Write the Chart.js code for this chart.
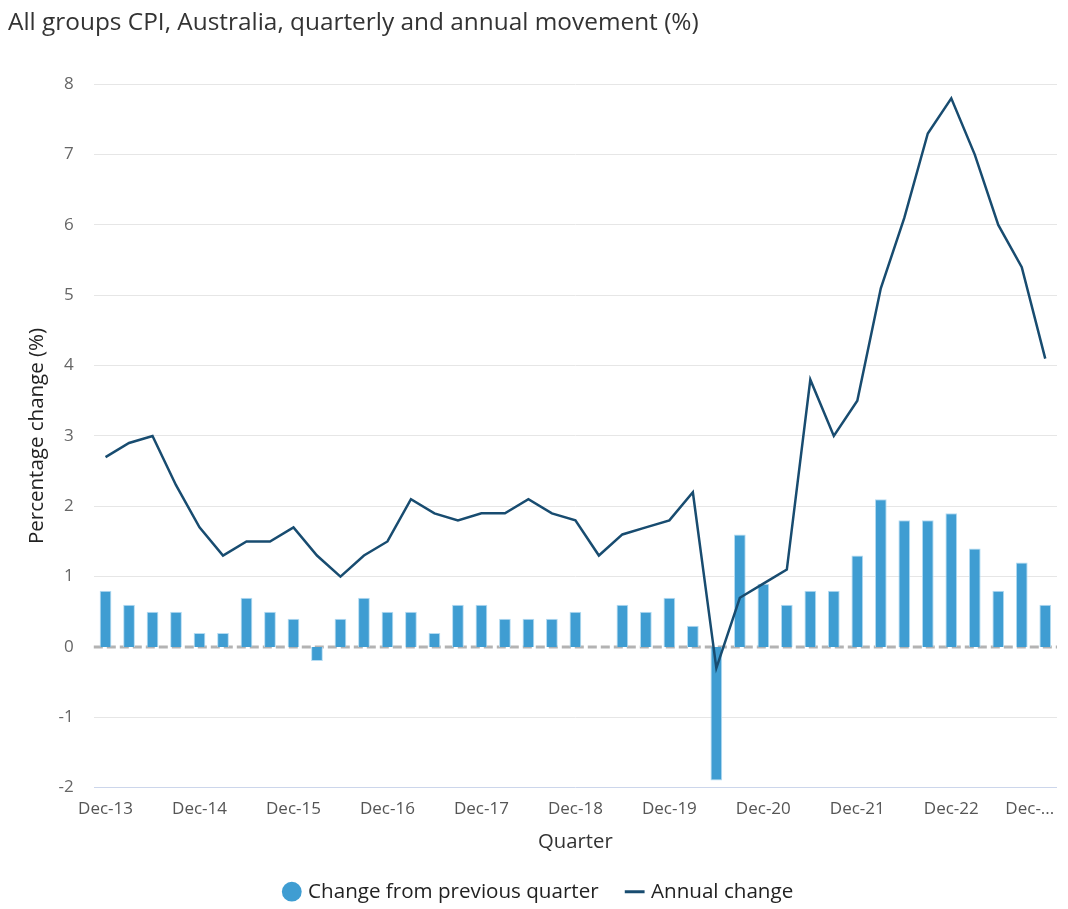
<!DOCTYPE html>
<html>
<head>
<meta charset="utf-8">
<script src="https://cdn.jsdelivr.net/npm/chart.js@4.4.1/dist/chart.umd.min.js"></script>
<style>
html,body{margin:0;padding:0;background:#fff;}
#wrap{width:1068px;height:909px;position:relative;}
</style>
</head>
<body>
<div id="wrap"><canvas id="c"></canvas></div>
<script>
const categories = ["Dec-13","Mar-14","Jun-14","Sep-14","Dec-14","Mar-15","Jun-15","Sep-15","Dec-15","Mar-16","Jun-16","Sep-16","Dec-16","Mar-17","Jun-17","Sep-17","Dec-17","Mar-18","Jun-18","Sep-18","Dec-18","Mar-19","Jun-19","Sep-19","Dec-19","Mar-20","Jun-20","Sep-20","Dec-20","Mar-21","Jun-21","Sep-21","Dec-21","Mar-22","Jun-22","Sep-22","Dec-22","Mar-23","Jun-23","Sep-23","Dec-23"];
const quarterlyChange = [0.8,0.6,0.5,0.5,0.2,0.2,0.7,0.5,0.4,-0.2,0.4,0.7,0.5,0.5,0.2,0.6,0.6,0.4,0.4,0.4,0.5,0.0,0.6,0.5,0.7,0.3,-1.9,1.6,0.9,0.6,0.8,0.8,1.3,2.1,1.8,1.8,1.9,1.4,0.8,1.2,0.6];
const annualChange = [2.7,2.9,3.0,2.3,1.7,1.3,1.5,1.5,1.7,1.3,1.0,1.3,1.5,2.1,1.9,1.8,1.9,1.9,2.1,1.9,1.8,1.3,1.6,1.7,1.8,2.2,-0.3,0.7,0.9,1.1,3.8,3.0,3.5,5.1,6.1,7.3,7.8,7.0,6.0,5.4,4.1];
const yTicks = [-2,-1,0,1,2,3,4,5,6,7,8];

const FONT = "'Open Sans', 'Noto Sans', sans-serif";

const zeroLine = {
  id: 'zeroLine',
  beforeDatasetsDraw(chart) {
    const y = chart.scales.y.getPixelForValue(0);
    const {left, right} = chart.chartArea;
    const ctx = chart.ctx;
    ctx.save();
    ctx.strokeStyle = '#b3b3b3';
    ctx.lineWidth = 3;
    ctx.setLineDash([9, 4]);
    ctx.beginPath();
    ctx.moveTo(left, y);
    ctx.lineTo(right, y);
    ctx.stroke();
    ctx.restore();
  }
};

const legendShift = {
  id: 'legendShift',
  afterLayout(chart) {
    if (chart.legend) {
      chart.legend.left += 7;
      chart.legend.right += 7;
    }
  }
};

new Chart(document.getElementById('c'), {
  data: {
    labels: categories,
    datasets: [
      {
        type: 'line',
        label: 'Annual change',
        data: annualChange,
        borderColor: '#184c70',
        backgroundColor: '#184c70',
        borderWidth: 2.5,
        pointRadius: 0,
        tension: 0,
        order: 0
      },
      {
        type: 'bar',
        label: 'Change from previous quarter',
        data: quarterlyChange,
        backgroundColor: '#3f9dd2',
        borderColor: '#b5dcf2',
        borderWidth: 1,
        barPercentage: 0.5,
        categoryPercentage: 1.0,
        order: 1
      }
    ]
  },
  options: {
    responsive: true,
    maintainAspectRatio: false,
    animation: false,
    layout: { padding: { left: 8, right: 11, top: 0, bottom: -3 } },
    plugins: {
      title: {
        display: true,
        text: 'All groups CPI, Australia, quarterly and annual movement (%)',
        align: 'start',
        color: '#333333',
        font: { family: FONT, size: 24.4, weight: 'normal' },
        padding: { top: 8, bottom: 47 }
      },
      legend: {
        position: 'bottom',
        reverse: true,
        labels: {
          color: '#222222',
          font: { family: FONT, size: 20.6, lineHeight: 1.0 },
          usePointStyle: true,
          boxWidth: 12,
          boxHeight: 14,
          padding: 30,
          generateLabels(chart) {
            return chart.data.datasets.map((ds, i) => ({
              text: ds.label,
              fillStyle: ds.type === 'bar' ? '#3f9dd2' : '#184c70',
              strokeStyle: ds.type === 'bar' ? '#3f9dd2' : '#184c70',
              lineWidth: ds.type === 'bar' ? 0 : 3,
              pointStyle: ds.type === 'bar' ? 'circle' : 'line',
              datasetIndex: i,
              hidden: false,
              fontColor: '#222222'
            }));
          }
        }
      },
      tooltip: { enabled: false }
    },
    scales: {
      x: {
        offset: true,
        grid: { display: false, drawTicks: false },
        border: { display: false },
        afterFit(scale) { scale.paddingRight = 0; scale.paddingLeft = 0; },
        ticks: {
          color: '#555555',
          font: { family: FONT, size: 17 },
          autoSkip: false,
          maxRotation: 0,
          padding: 11,
          callback(v, i) {
            if (i % 4 !== 0) return '';
            if (i === categories.length - 1) return 'Dec-...       ';
            return categories[i];
          }
        },
        title: {
          display: true,
          text: 'Quarter',
          color: '#333333',
          font: { family: FONT, size: 20.3 },
          padding: { top: 0, bottom: -3 }
        }
      },
      y: {
        min: -2,
        max: 8,
        afterBuildTicks(scale) { scale.ticks = yTicks.map(v => ({ value: v })); },
        grid: {
          color(ctx) { return ctx.tick && ctx.tick.value === -2 ? '#ccd6eb' : '#e6e6e6'; },
          lineWidth(ctx) { return ctx.tick && ctx.tick.value === 0 ? 0 : 1; },
          drawTicks: false
        },
        border: { display: false },
        ticks: {
          color: '#666666',
          font: { family: FONT, size: 17 },
          padding: 20
        },
        title: {
          display: true,
          text: 'Percentage change (%)',
          color: '#222222',
          font: { family: FONT, size: 20.5 },
          padding: { top: 17, bottom: -11 }
        }
      }
    }
  },
  plugins: [zeroLine, legendShift]
});
</script>
</body>
</html>
